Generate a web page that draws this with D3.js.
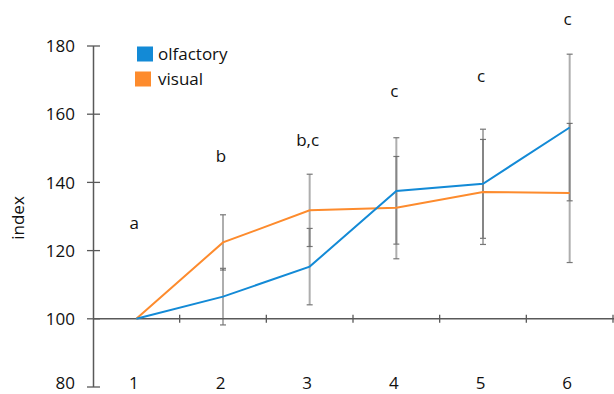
<!DOCTYPE html>
<html><head><meta charset="utf-8">
<script src="https://cdn.jsdelivr.net/npm/d3@7"></script>
<style>body{margin:0;background:#fff}svg{display:block}text{font-family:"Open Sans",sans-serif;fill:#111}</style>
</head><body><svg id="c" width="614" height="394"></svg>
<script>
const categories = ["1","2","3","4","5","6"];
const olfactory = [100, 106.5, 115.3, 137.5, 139.6, 156.1];
const olfactoryErr = [0, 8.3, 11.2, 15.6, 16.0, 21.5];
const visual = [100, 122.4, 131.8, 132.6, 137.2, 136.9];
const visualErr = [0, 8.1, 10.6, 15.0, 15.4, 20.4];
const letters = ["a","b","b,c","c","c","c"];
const letterPos = [126.4, 146.0, 150.7, 165.1, 169.5, 186.2];
const yTicks = [80, 100, 120, 140, 160, 180];
const seriesNames = ["olfactory","visual"];
const colors = ["#138ad6","#fd8b2d"];

const svg = d3.select("#c");
const x = d3.scaleBand().domain(categories).range([93, 613]);
const y = d3.scaleLinear().domain([80, 180]).range([387, 46]);
const cx = c => x(c) + x.bandwidth()/2;
const axisCol = "#595959";

// y axis
svg.append("line").attr("x1",93.5).attr("x2",93.5).attr("y1",y(180)).attr("y2",y(80)).attr("stroke",axisCol).attr("stroke-width",1.5);
yTicks.forEach(t=>{
  svg.append("line").attr("x1",87).attr("x2",100).attr("y1",y(t)).attr("y2",y(t)).attr("stroke",axisCol).attr("stroke-width",1.3);
  svg.append("text").attr("x",75).attr("y",Math.min(y(t),383)).attr("dy","0.36em").attr("text-anchor","end").attr("font-size",17).text(t);
});
// x axis at 100
const y100 = y(100);
svg.append("line").attr("x1",93).attr("x2",614).attr("y1",y100).attr("y2",y100).attr("stroke",axisCol).attr("stroke-width",1.5);
categories.forEach(c=>{
  const xe = x(c)+x.bandwidth();
  svg.append("line").attr("x1",xe).attr("x2",xe).attr("y1",y100-4).attr("y2",y100+4).attr("stroke",axisCol).attr("stroke-width",1.3);
  svg.append("text").attr("x",cx(c)-2.5).attr("y",389).attr("text-anchor","middle").attr("font-size",17).text(c);
});

// error bars
function errBars(vals, errs){
  categories.forEach((c,i)=>{
    if(!errs[i]) return;
    const X = cx(c);
    const g = svg.append("g");
    g.append("line").attr("x1",X).attr("x2",X).attr("y1",y(vals[i]+errs[i])).attr("y2",y(vals[i]-errs[i])).attr("stroke","#5e5e5e").attr("stroke-opacity",0.5).attr("stroke-width",2);
    [vals[i]+errs[i], vals[i]-errs[i]].forEach(v=>{
      g.append("line").attr("x1",X-3).attr("x2",X+3).attr("y1",y(v)).attr("y2",y(v)).attr("stroke","#777").attr("stroke-width",1.2);
    });
  });
}
errBars(visual, visualErr);
errBars(olfactory, olfactoryErr);

// lines
const line = d3.line().x((d,i)=>cx(categories[i])).y(d=>y(d));
svg.append("path").datum(visual).attr("d",line).attr("fill","none").attr("stroke",colors[1]).attr("stroke-width",2);
svg.append("path").datum(olfactory).attr("d",line).attr("fill","none").attr("stroke",colors[0]).attr("stroke-width",2);

// letters
categories.forEach((c,i)=>{
  svg.append("text").attr("x",cx(c)-2).attr("y",y(letterPos[i])).attr("text-anchor","middle").attr("font-size",17).text(letters[i]);
});

// legend
const legY = [46.5, 71.5];
const legX = [137, 135];
seriesNames.forEach((n,i)=>{
  svg.append("rect").attr("x",legX[i]).attr("y",legY[i]).attr("width",16).attr("height",15).attr("fill",colors[i]);
  svg.append("text").attr("x",158).attr("y",legY[i]+7.5).attr("dy","0.36em").attr("font-size",17).text(n);
});

// y label
svg.append("text").attr("transform","translate(24,218) rotate(-90)").attr("text-anchor","middle").attr("font-size",17).text("index");
</script></body></html>
